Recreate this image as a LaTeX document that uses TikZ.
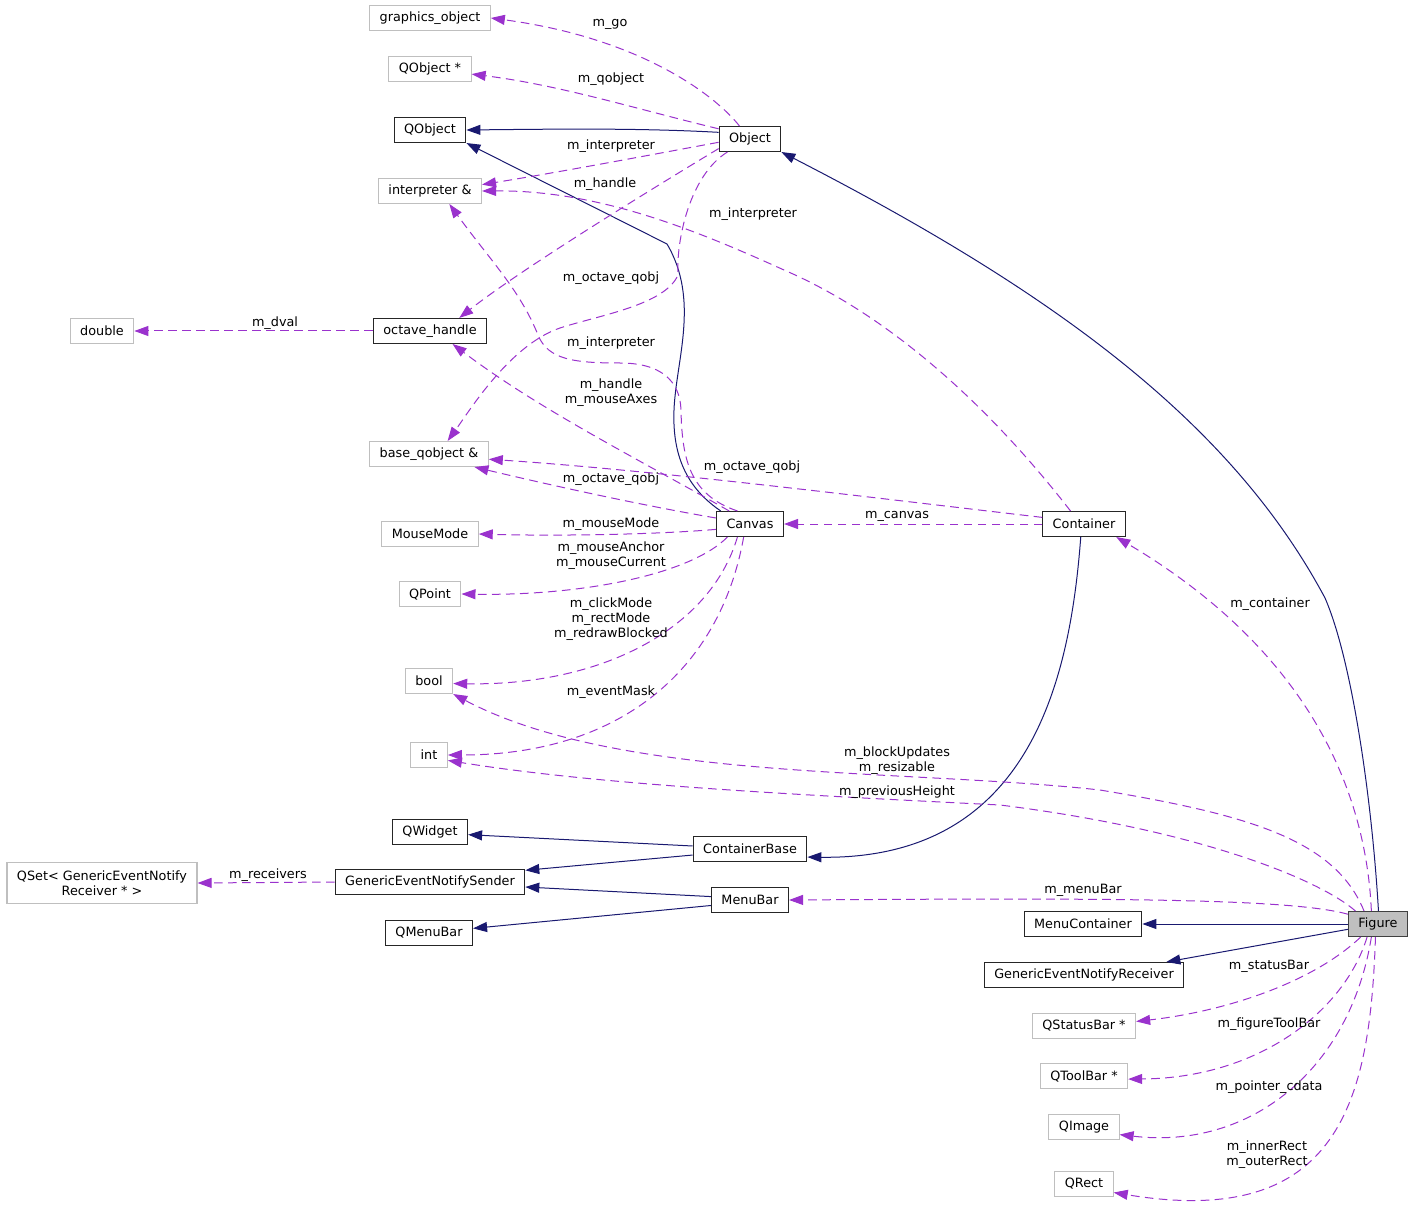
\documentclass[tikz,border=0pt]{standalone}
\usepackage{fontspec}
\setmainfont{DejaVu Sans}
\usepackage{xcolor}
\usepackage{tikz}
\usetikzlibrary{arrows.meta, positioning}

\definecolor{edgeblue}{HTML}{191970}
\definecolor{edgepurple}{HTML}{9A32CD}
\definecolor{boxgray}{HTML}{BFBFBF}

\begin{document}
\begin{tikzpicture}[
    x=0.75pt, y=-0.75pt,
    font=\fontsize{9.6}{11.25}\selectfont,
    class node/.style = {
        rectangle,
        draw=black!85,
        line width=0.8pt,
        minimum height=18.75pt,
        inner xsep=7.5pt,
        inner ysep=2pt,
        align=center,
        fill=white
    },
    member node/.style = {class node, draw=boxgray},
    main node/.style = {class node, fill=boxgray, draw=black!75},
    inherit edge/.style = {-{Triangle[length=10.5pt, width=7.5pt]}, edgeblue, line width=0.75pt},
    usage edge/.style = {-{Triangle[length=10.5pt, width=7.5pt]}, edgepurple, line width=0.75pt,
        dash pattern=on 6.5pt off 4pt},
    edge label/.style = {align=center, inner sep=0pt, text=black}
]
\useasboundingbox (0,0) rectangle (1416,1212);

% left column
\node [member node] (gobj) at (430,18) {graphics\_object};
\node [member node] (qobjptr) at (430,69) {QObject *};
\node [class node] (QObject) at (430,130) {QObject};
\node [member node] (interp) at (430,191) {interpreter \&};
\node [member node] (double) at (102,331) {double};
\node [class node] (octave) at (430,331) {octave\_handle};
\node [member node] (base) at (429,454) {base\_qobject \&};
\node [member node] (MouseMode) at (430,534) {MouseMode};
\node [member node] (QPoint) at (430,594) {QPoint};
\node [member node] (bool) at (429,681) {bool};
\node [member node] (int) at (429,755) {int};
\node [class node] (QWidget) at (430,832) {QWidget};
\node [member node, minimum height=30.75pt] (QSet) at (102,883) {QSet< GenericEventNotify\\Receiver * >};
\node [class node] (GENS) at (430,882) {GenericEventNotifySender};
\node [class node] (QMenuBar) at (429,933) {QMenuBar};

% middle column
\node [class node] (Object) at (750,139) {Object};
\node [class node] (Canvas) at (750,524) {Canvas};
\node [class node] (CB) at (750,849) {ContainerBase};
\node [class node] (MenuBar) at (750,900) {MenuBar};

% right columns
\node [class node] (Container) at (1084,524) {Container};
\node [class node] (MenuContainer) at (1083,924) {MenuContainer};
\node [class node] (GENR) at (1084,975) {GenericEventNotifyReceiver};
\node [member node] (QStatusBar) at (1084,1026) {QStatusBar *};
\node [member node] (QToolBar) at (1084,1076) {QToolBar *};
\node [member node] (QImage) at (1084,1127) {QImage};
\node [member node] (QRect) at (1084,1184) {QRect};
\node [main node] (Figure) at (1378,924) {Figure};

% inheritance
\draw [inherit edge] (Object.168) .. controls (640,128) and (560,129) .. (QObject.east);
\draw [inherit edge] (Canvas.156) .. controls (690,490) and (672,460) .. (674,410)
    .. controls (676,360) and (700,300) .. (667,244) -- (QObject.south east);
\draw [inherit edge] (Figure.88) .. controls (1372,800) and (1352,660) .. (1325,598)
    .. controls (1230,420) and (1050,290) .. (Object.south east);
\draw [inherit edge] (Container.256) .. controls (1070,680) and (1030,860) .. (CB.-8);
\draw [inherit edge] (CB.177) -- (QWidget.-4);
\draw [inherit edge] (CB.186) -- (GENS.7);
\draw [inherit edge] (MenuBar.175) -- (GENS.-3);
\draw [inherit edge] (MenuBar.188) -- (QMenuBar.6);
\draw [inherit edge] (Figure.west) -- (MenuContainer.east);
\draw [inherit edge] (Figure.190) -- (GENR.9);

% members of Object
\draw [usage edge] (Object.129) .. controls (715,95) and (640,38) .. (gobj.east)
    node [edge label] at (610,24) {m\_go};
\draw [usage edge] (Object.162) .. controls (640,110) and (560,85) .. (qobjptr.-7)
    node [edge label] at (611,79) {m\_qobject};
\draw [usage edge] (Object.186) .. controls (650,155) and (560,172) .. (interp.7)
    node [edge label] at (611,146) {m\_interpreter};
\draw [usage edge] (Object.197) .. controls (650,190) and (520,270) .. (octave.24)
    node [edge label] at (605,184) {m\_handle};
\draw [usage edge] (Object.210) .. controls (690,175) and (676,240) .. (678,275)
    .. controls (665,305) and (600,315) .. (560,328)
    .. controls (510,345) and (470,410) .. (base.35)
    node [edge label] at (611,278) {m\_octave\_qobj};
\draw [usage edge] (octave.west) -- (double.east)
    node [edge label] at (275,323) {m\_dval};

% members of Canvas
\draw [usage edge] (Canvas.134) .. controls (690,495) and (682,460) .. (681,410)
    .. controls (680,380) and (660,363) .. (620,363)
    .. controls (575,363) and (548,360) .. (538,335)
    .. controls (520,290) and (490,260) .. (interp.-34)
    node [edge label] at (611,343) {m\_interpreter};
\draw [usage edge] (Canvas.148) .. controls (640,460) and (540,410) .. (octave.-30)
    node [edge label] at (611,393) {m\_handle\\m\_mouseAxes};
\draw [usage edge] (Canvas.170) .. controls (640,505) and (550,485) .. (base.-16)
    node [edge label] at (611,479) {m\_octave\_qobj};
\draw [usage edge] (Canvas.189) .. controls (650,535) and (550,536) .. (MouseMode.east)
    node [edge label] at (611,524) {m\_mouseMode};
\draw [usage edge] (Canvas.210) .. controls (690,575) and (580,596) .. (QPoint.east)
    node [edge label] at (611,556) {m\_mouseAnchor\\m\_mouseCurrent};
\draw [usage edge] (Canvas.226) .. controls (710,630) and (600,686) .. (bool.-6)
    node [edge label] at (611,619) {m\_clickMode\\m\_rectMode\\m\_redrawBlocked};
\draw [usage edge] (Canvas.244) .. controls (720,670) and (620,755) .. (int.east)
    node [edge label] at (611,692) {m\_eventMask};

% members of Container
\draw [usage edge] (Container.136) .. controls (1000,420) and (900,320) .. (784,270)
    .. controls (700,232) and (600,190) .. (interp.east)
    node [edge label] at (753,214) {m\_interpreter};
\draw [usage edge] (Container.171) .. controls (850,495) and (650,470) .. (base.-5)
    node [edge label] at (752,467) {m\_octave\_qobj};
\draw [usage edge] (Container.west) -- (Canvas.east)
    node [edge label] at (897,516) {m\_canvas};

% members of GenericEventNotifySender
\draw [usage edge] (GENS.west) -- (QSet.east)
    node [edge label] at (268,875) {m\_receivers};

% members of Figure
\draw [usage edge] (Figure.117) .. controls (1365,770) and (1290,640) .. (Container.-22)
    node [edge label] at (1270,604) {m\_container};
\draw [usage edge] (Figure.137) .. controls (1335,840) and (1250,815) .. (1100,790)
    .. controls (900,768) and (620,782) .. (bool.south east)
    node [edge label] at (897,761) {m\_blockUpdates\\m\_resizable};
\draw [usage edge] (Figure.150) .. controls (1320,880) and (1200,830) .. (1000,805)
    .. controls (800,795) and (600,785) .. (int.-16)
    node [edge label] at (897,792) {m\_previousHeight};
\draw [usage edge] (Figure.162) .. controls (1290,898) and (1100,898) .. (MenuBar.east)
    node [edge label] at (1083,890) {m\_menuBar};
\draw [usage edge] (Figure.217) .. controls (1310,985) and (1220,1012) .. (QStatusBar.5)
    node [edge label] at (1269,966) {m\_statusBar};
\draw [usage edge] (Figure.230) .. controls (1345,1010) and (1260,1078) .. (QToolBar.-4)
    node [edge label] at (1269,1024) {m\_figureToolBar};
\draw [usage edge] (Figure.243) .. controls (1350,1070) and (1250,1150) .. (QImage.-12)
    node [edge label] at (1269,1087) {m\_pointer\_cdata};
\draw [usage edge] (Figure.259) .. controls (1370,1100) and (1340,1230) .. (QRect.-16)
    node [edge label] at (1267,1155) {m\_innerRect\\m\_outerRect};

\end{tikzpicture}
\end{document}
